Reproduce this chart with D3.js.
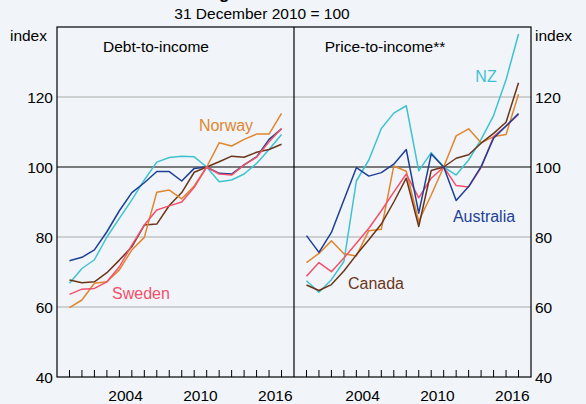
<!DOCTYPE html>
<html>
<head>
<meta charset="utf-8">
<script src="https://cdn.jsdelivr.net/npm/d3@7"></script>
<style>
  html, body { margin: 0; padding: 0; background: #f1f5f9; }
  svg { display: block; font-family: Arial, "Liberation Sans", sans-serif; }
</style>
</head>
<body>
<div class="chart"></div>
<script>
var w = 586, h = 404;

// values at 31 December of each year
var years = [1999, 2000, 2001, 2002, 2003, 2004, 2005, 2006, 2007, 2008, 2009, 2010, 2011, 2012, 2013, 2014, 2015, 2016];

var debtAus = [73.2, 74.2, 76.3, 81.5, 87.5, 92.7, 95.5, 98.7, 98.7, 96.0, 99.6, 100, 98.2, 98.0, 100.6, 102.9, 107.9, 110.9];
var debtNZ  = [66.8, 71.0, 73.5, 80.0, 85.3, 90.6, 96.3, 101.4, 102.7, 103.1, 102.9, 100, 95.8, 96.3, 98.0, 101.0, 105.0, 109.3];
var debtNor = [59.8, 62.0, 66.8, 67.2, 70.6, 76.3, 79.9, 92.8, 93.4, 90.9, 94.6, 100, 106.9, 106.0, 107.9, 109.4, 109.4, 115.3];
var debtSwe = [63.6, 65.1, 65.3, 67.2, 71.5, 77.7, 83.4, 87.7, 88.9, 90.0, 94.2, 100, 98.0, 97.7, 100.6, 102.8, 107.2, 111.0];
var debtCan = [67.7, 66.9, 67.2, 69.8, 73.4, 77.2, 83.4, 83.7, 89.0, 92.7, 98.5, 100, 101.5, 103.1, 102.8, 104.2, 105.0, 106.5];

var priceAus = [80.4, 75.6, 81.3, 90.6, 99.8, 97.4, 98.4, 100.8, 105.0, 86.8, 103.7, 100, 90.4, 94.4, 100.1, 108.2, 111.7, 115.3];
var priceNZ  = [67.5, 64.2, 67.8, 73.0, 96.0, 102.0, 111.0, 115.4, 117.5, 98.9, 104.1, 100, 97.7, 102.0, 107.9, 114.7, 124.9, 138.0];
var priceNor = [72.7, 75.3, 78.9, 75.2, 74.6, 81.8, 82.2, 100.3, 98.8, 84.5, 92.0, 100, 108.9, 110.9, 106.9, 108.7, 109.3, 120.8];
var priceSwe = [68.8, 72.7, 70.1, 74.0, 78.2, 82.5, 87.5, 92.8, 98.0, 91.2, 96.8, 100, 94.7, 94.3, 99.8, 108.7, 111.7, 115.0];
var priceCan = [66.3, 64.7, 66.4, 70.3, 74.9, 79.2, 83.7, 90.0, 96.8, 83.0, 99.0, 100, 102.5, 103.5, 106.8, 109.6, 112.8, 124.1];

var yTicks = [40, 60, 80, 100, 120];
var xLabels = [2004, 2010, 2016];
var xDomain = [1999, 2018];

var colors = { aus: "#1d3f96", nz: "#3fc2d0", nor: "#e0862f", swe: "#f2506b", can: "#6b3519" };

var debtSeries = [
  { key: "nz", values: debtNZ }, { key: "aus", values: debtAus }, { key: "can", values: debtCan },
  { key: "nor", values: debtNor }, { key: "swe", values: debtSwe }
];
var priceSeries = [
  { key: "nz", values: priceNZ }, { key: "nor", values: priceNor }, { key: "swe", values: priceSwe },
  { key: "can", values: priceCan }, { key: "aus", values: priceAus }
];

var m = { left: 57, right: 531, top: 27, bottom: 377 };
var mid = (m.left + m.right) / 2;

var svg = d3.select(".chart").append("svg")
    .attr("width", w).attr("height", h);

svg.append("rect").attr("width", w).attr("height", h).attr("fill", "#f1f5f9");

var y = d3.scaleLinear().domain([40, 140]).range([m.bottom, m.top]);
var xL = d3.scaleLinear().domain(xDomain).range([m.left, mid]);
var xR = d3.scaleLinear().domain(xDomain).range([mid, m.right]);

// title (only its descenders show at the top of the frame)
svg.append("text").attr("x", 262).attr("y", -1)
    .attr("text-anchor", "middle").attr("font-size", 17).attr("font-weight", "bold")
    .attr("fill", "#000").text("Housing Debt and Prices");
svg.append("text").attr("x", 262).attr("y", 19)
    .attr("text-anchor", "middle").attr("font-size", 15.5).attr("fill", "#000")
    .text("31 December 2010 = 100");

// grid lines
svg.selectAll(".grid").data(yTicks.filter(d => d != 40 && d != 100)).enter()
    .append("line").attr("class", "grid")
    .attr("x1", m.left).attr("x2", m.right)
    .attr("y1", d => y(d)).attr("y2", d => y(d))
    .attr("stroke", "#a9a9a9").attr("stroke-width", 1);

function drawPanel(x, series) {
  var line = d3.line()
      .x((d, i) => x(years[i] + 1))
      .y(d => y(d));
  svg.append("g").selectAll("path").data(series).enter()
      .append("path")
      .attr("d", d => line(d.values))
      .attr("fill", "none")
      .attr("stroke", d => colors[d.key])
      .attr("stroke-width", 1.5)
      .attr("stroke-linejoin", "round");

  // year ticks inside the bottom edge
  var ticks = d3.range(2000, 2018);
  svg.append("g").selectAll("line").data(ticks).enter()
      .append("line")
      .attr("x1", d => x(d)).attr("x2", d => x(d))
      .attr("y1", m.bottom).attr("y2", m.bottom - 7)
      .attr("stroke", "#000").attr("stroke-width", 1);

  svg.append("g").selectAll("text").data(xLabels).enter()
      .append("text")
      .attr("x", d => x(d + 0.5)).attr("y", 401)
      .attr("text-anchor", "middle").attr("font-size", 15.5)
      .text(d => d);
}

// 100 line
svg.append("line")
    .attr("x1", m.left).attr("x2", m.right)
    .attr("y1", y(100)).attr("y2", y(100))
    .attr("stroke", "#000").attr("stroke-width", 1.2);

drawPanel(xL, debtSeries);
drawPanel(xR, priceSeries);

// frame and divider
svg.append("rect")
    .attr("x", m.left).attr("y", m.top)
    .attr("width", m.right - m.left).attr("height", m.bottom - m.top)
    .attr("fill", "none").attr("stroke", "#000").attr("stroke-width", 1.2);
svg.append("line")
    .attr("x1", mid).attr("x2", mid).attr("y1", m.top).attr("y2", m.bottom)
    .attr("stroke", "#000").attr("stroke-width", 1.2);

// y axis labels both sides
svg.append("g").selectAll("text").data(yTicks).enter()
    .append("text")
    .attr("x", m.left - 4).attr("y", d => y(d)).attr("dy", "0.36em")
    .attr("text-anchor", "end").attr("font-size", 15.5).text(d => d);
svg.append("g").selectAll("text").data(yTicks).enter()
    .append("text")
    .attr("x", m.right + 4).attr("y", d => y(d)).attr("dy", "0.36em")
    .attr("text-anchor", "start").attr("font-size", 15.5).text(d => d);
svg.append("text").attr("x", m.left - 10).attr("y", 41)
    .attr("text-anchor", "end").attr("font-size", 15.5).text("index");
svg.append("text").attr("x", m.right + 4).attr("y", 41)
    .attr("text-anchor", "start").attr("font-size", 15.5).text("index");

// panel titles
svg.append("text").attr("x", 156).attr("y", 52)
    .attr("text-anchor", "middle").attr("font-size", 15.5).text("Debt-to-income");
svg.append("text").attr("x", 385).attr("y", 52)
    .attr("text-anchor", "middle").attr("font-size", 15.5).text("Price-to-income**");

// series labels
var labels = [
  { text: "Norway", key: "nor", x: 226, y: 131 },
  { text: "Sweden", key: "swe", x: 141, y: 299 },
  { text: "NZ", key: "nz", x: 486, y: 82 },
  { text: "Australia", key: "aus", x: 484, y: 222 },
  { text: "Canada", key: "can", x: 376, y: 289 }
];
svg.append("g").selectAll("text").data(labels).enter()
    .append("text")
    .attr("x", d => d.x).attr("y", d => d.y)
    .attr("text-anchor", "middle").attr("font-size", 16)
    .attr("fill", d => colors[d.key]).text(d => d.text);
</script>
</body>
</html>
